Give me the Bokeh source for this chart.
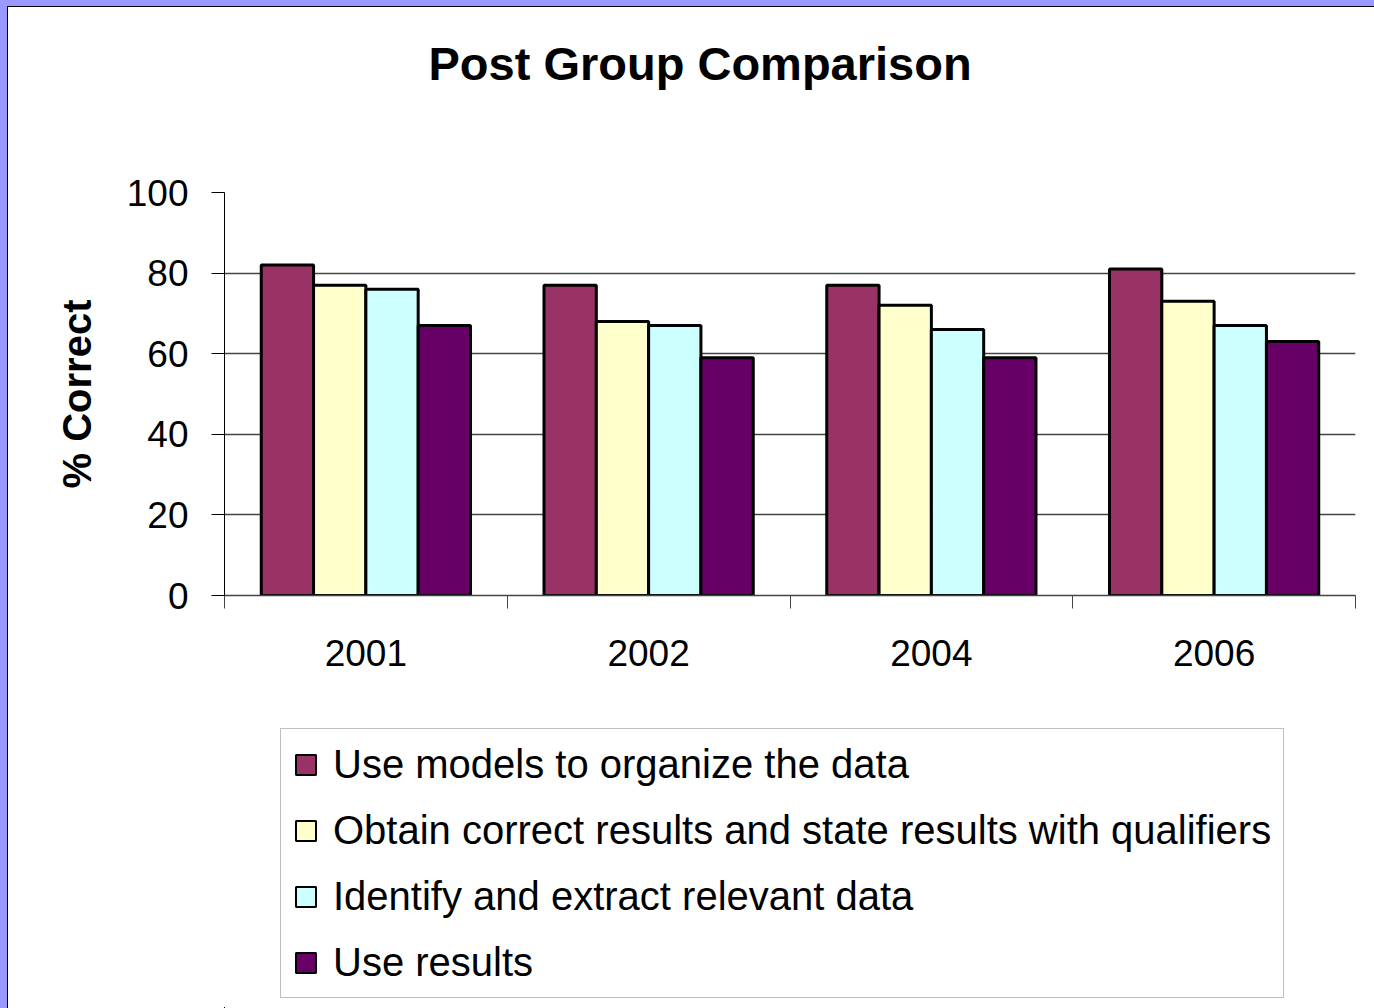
from bokeh.plotting import figure
from bokeh.layouts import column
from bokeh.models import (Range1d, FixedTicker, Legend, LegendItem, Title,
                          ColumnDataSource, GlobalInlineStyleSheet)
from bokeh.embed import file_html
from bokeh.resources import INLINE

# ---- data ----
years = ["2001", "2002", "2004", "2006"]
series_names = [
    "Use models to organize the data",
    "Obtain correct results and state results with qualifiers",
    "Identify and extract relevant data",
    "Use results",
]
use_models = [82, 77, 77, 81]
obtain_correct = [77, 68, 72, 73]
identify_extract = [76, 67, 66, 67]
use_results = [67, 59, 59, 63]
y_ticks = [0, 20, 40, 60, 80, 100]
grid_ticks = [20, 40, 60, 80]

colors = ["#993366", "#FFFFCC", "#CCFFFF", "#660066"]
values = [use_models, obtain_correct, identify_extract, use_results]

FONT = "Liberation Sans"
n = len(years)

# ---------------- chart figure ----------------
p = figure(
    width=1366, height=715,
    x_range=Range1d(0, n),
    y_range=Range1d(0, 100),
    output_backend="svg", toolbar_location=None,
    min_border_left=216, min_border_right=19, min_border_top=185, min_border_bottom=127,
)
p.background_fill_color = "white"
p.border_fill_color = "white"
p.outline_line_color = None

# real title (outermost) + an empty spacer title between it and the frame
p.title.text = "Post Group Comparison"
p.title.text_font = FONT
p.title.text_font_style = "bold"
p.title.text_font_size = "47px"
p.title.text_color = "black"
p.title.align = "left"
p.title.offset = 204
p.title.standoff = 10
p.add_layout(Title(text=" ", text_font_size="10px", standoff=85), "above")

# bars (category index -> position on a linear category scale)
bar_w = 0.185
offsets = [-1.5 * bar_w, -0.5 * bar_w, 0.5 * bar_w, 1.5 * bar_w]
centers = [i + 0.5 for i in range(n)]
sources = []
for i in range(4):
    src = ColumnDataSource({"x": [c + offsets[i] for c in centers], "top": values[i], "year": years})
    sources.append(src)
    p.vbar(x="x", top="top", width=bar_w, source=src,
           fill_color=colors[i], line_color="black", line_width=3)

# y axis
yax = p.yaxis[0]
yax.ticker = FixedTicker(ticks=y_ticks)
yax.axis_label = "% Correct"
yax.axis_label_text_font = FONT
yax.axis_label_text_font_style = "bold"
yax.axis_label_text_font_size = "40px"
yax.axis_label_text_color = "black"
yax.axis_label_standoff = 25
yax.major_label_text_font = FONT
yax.major_label_text_font_size = "37px"
yax.major_label_text_color = "black"
yax.major_label_standoff = 23
yax.major_tick_out = 13
yax.major_tick_in = 0
yax.minor_tick_out = 0
yax.minor_tick_in = 0
yax.axis_line_color = "black"
yax.major_tick_line_color = "black"

# x axis: labels at category centres, tick marks at category boundaries
xax = p.xaxis[0]
xax.ticker = FixedTicker(ticks=centers, minor_ticks=list(range(n + 1)))
xax.major_label_overrides = {c: y for c, y in zip(centers, years)}
xax.major_label_text_font = FONT
xax.major_label_text_font_size = "37px"
xax.major_label_text_color = "black"
xax.major_label_standoff = 31
xax.major_tick_out = 0
xax.major_tick_in = 0
xax.minor_tick_out = 13
xax.minor_tick_in = 0
xax.minor_tick_line_color = "#444444"
xax.axis_line_color = "#444444"
xax.axis_line_width = 1.5

# grid
p.xgrid.grid_line_color = None
p.ygrid.ticker = FixedTicker(ticks=grid_ticks)
p.ygrid.grid_line_color = "#444444"
p.ygrid.grid_line_width = 1.5

# ---------------- legend figure ----------------
# same series drawn again (outside its visible ranges) so the legend keys have glyphs
pl = figure(
    width=1366, height=286,
    x_range=Range1d(n + 10, n + 11), y_range=Range1d(200, 300),
    output_backend="svg", toolbar_location=None,
    x_axis_location=None, y_axis_location=None,
    min_border=0,
)
pl.grid.visible = False
pl.outline_line_color = None
pl.background_fill_color = "white"
pl.border_fill_color = "white"

keys = []
for i in range(4):
    keys.append(pl.vbar(x="x", top="top", width=bar_w, source=sources[i],
                        fill_color=colors[i], line_color="black", line_width=2))

legend = Legend(
    items=[LegendItem(label=series_names[i], renderers=[keys[i]]) for i in range(4)],
    location=(56, 10),
    orientation="vertical",
    label_text_font=FONT,
    label_text_font_size="40px",
    label_text_color="black",
    label_height=46,
    glyph_width=25,
    glyph_height=25,
    label_standoff=15,
    spacing=20,
    padding=12,
    margin=0,
    border_line_color="#808080",
    border_line_width=1.5,
    background_fill_color="white",
    background_fill_alpha=1,
)
pl.add_layout(legend, "center")

layout = column(p, pl, spacing=0)
layout.stylesheets = [GlobalInlineStyleSheet(
    css="html, body {background:#9999FF;} body {padding: 7px 0 0 8px;}")]
layout.styles = {"outline": "1.5px solid #000000", "background-color": "white"}

open("out.html", "w").write(file_html(layout, INLINE))
